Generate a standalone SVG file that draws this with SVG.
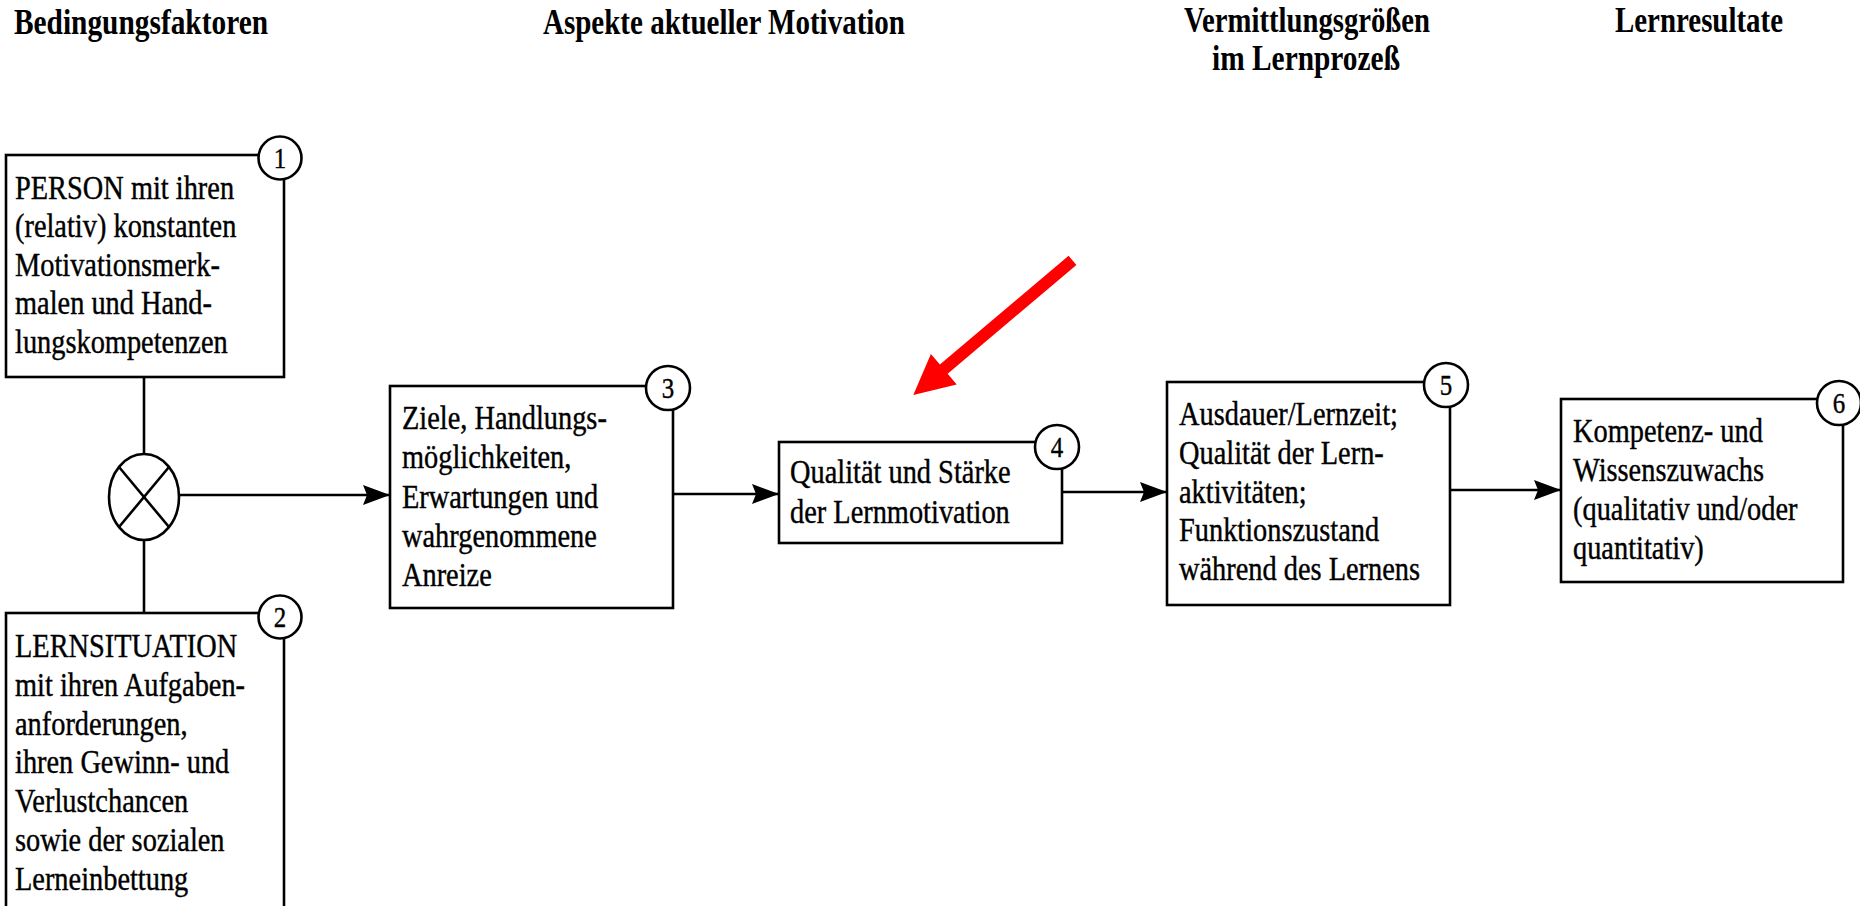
<svg xmlns="http://www.w3.org/2000/svg" width="1860" height="906" viewBox="0 0 1860 906">
<defs>
<style>
.hdr{font-family:"Liberation Serif","Times New Roman",serif;font-weight:bold;font-size:36px;fill:#000}
.txt{font-family:"Liberation Serif","Times New Roman",serif;font-size:33px;fill:#000;stroke:#000;stroke-width:0.4}
.num{font-family:"Liberation Serif","Times New Roman",serif;font-size:29px;fill:#000;stroke:#000;stroke-width:0.4;text-anchor:middle}
.box{fill:#fff;stroke:#000;stroke-width:2.6}
.circ{fill:#fff;stroke:#000;stroke-width:2.6}
.conn{fill:none;stroke:#000;stroke-width:2.6}
</style>
<marker id="ah" markerUnits="userSpaceOnUse" markerWidth="30" markerHeight="22" refX="27" refY="10" orient="auto">
<path d="M0,0 L27,10 L0,20 L4,10 Z" fill="#000"/>
</marker>
</defs>
<rect width="1860" height="906" fill="#fff"/>

<g id="headers">
<text class="hdr" x="14" y="34" textLength="254" lengthAdjust="spacingAndGlyphs">Bedingungsfaktoren</text>
<text class="hdr" x="543" y="34" textLength="362" lengthAdjust="spacingAndGlyphs">Aspekte aktueller Motivation</text>
<text class="hdr" x="1184" y="32" textLength="246" lengthAdjust="spacingAndGlyphs">Vermittlungsgrößen</text>
<text class="hdr" x="1212" y="70" textLength="188" lengthAdjust="spacingAndGlyphs">im Lernprozeß</text>
<text class="hdr" x="1615" y="32" textLength="168" lengthAdjust="spacingAndGlyphs">Lernresultate</text>
</g>

<g id="connectors">
<line class="conn" x1="144" y1="377" x2="144" y2="454"/>
<line class="conn" x1="144" y1="540" x2="144" y2="613"/>
<line class="conn" x1="179" y1="495" x2="390" y2="495" marker-end="url(#ah)"/>
<line class="conn" x1="673" y1="494" x2="779" y2="494" marker-end="url(#ah)"/>
<line class="conn" x1="1062" y1="492" x2="1167" y2="492" marker-end="url(#ah)"/>
<line class="conn" x1="1450" y1="490" x2="1561" y2="490" marker-end="url(#ah)"/>
</g>

<g id="combine">
<ellipse class="circ" cx="144" cy="497" rx="35" ry="43"/>
<line class="conn" x1="119" y1="467" x2="169" y2="527"/>
<line class="conn" x1="169" y1="467" x2="119" y2="527"/>
</g>

<g id="node1">
<rect class="box" x="6" y="155" width="278" height="222"/>
<circle class="circ" cx="280" cy="158" r="21.5"/>
<text class="num" transform="translate(280,168) scale(0.86,1)">1</text>
<text class="txt" transform="translate(15,199) scale(0.86,1)">PERSON mit ihren</text>
<text class="txt" transform="translate(15,237) scale(0.86,1)">(relativ) konstanten</text>
<text class="txt" transform="translate(15,276) scale(0.86,1)">Motivationsmerk-</text>
<text class="txt" transform="translate(15,314) scale(0.86,1)">malen und Hand-</text>
<text class="txt" transform="translate(15,353) scale(0.86,1)">lungskompetenzen</text>
</g>

<g id="node2">
<rect class="box" x="6" y="613" width="278" height="320"/>
<circle class="circ" cx="280" cy="617" r="21.5"/>
<text class="num" transform="translate(280,627) scale(0.86,1)">2</text>
<text class="txt" transform="translate(15,657) scale(0.86,1)">LERNSITUATION</text>
<text class="txt" transform="translate(15,696) scale(0.86,1)">mit ihren Aufgaben-</text>
<text class="txt" transform="translate(15,735) scale(0.86,1)">anforderungen,</text>
<text class="txt" transform="translate(15,773) scale(0.86,1)">ihren Gewinn- und</text>
<text class="txt" transform="translate(15,812) scale(0.86,1)">Verlustchancen</text>
<text class="txt" transform="translate(15,851) scale(0.86,1)">sowie der sozialen</text>
<text class="txt" transform="translate(15,890) scale(0.86,1)">Lerneinbettung</text>
</g>

<g id="node3">
<rect class="box" x="390" y="386" width="283" height="222"/>
<circle class="circ" cx="668" cy="388" r="22"/>
<text class="num" transform="translate(668,398) scale(0.86,1)">3</text>
<text class="txt" transform="translate(402,429) scale(0.86,1)">Ziele, Handlungs-</text>
<text class="txt" transform="translate(402,468) scale(0.86,1)">möglichkeiten,</text>
<text class="txt" transform="translate(402,508) scale(0.86,1)">Erwartungen und</text>
<text class="txt" transform="translate(402,547) scale(0.86,1)">wahrgenommene</text>
<text class="txt" transform="translate(402,586) scale(0.86,1)">Anreize</text>
</g>

<g id="node4">
<rect class="box" x="779" y="442" width="283" height="101"/>
<circle class="circ" cx="1057" cy="447" r="22"/>
<text class="num" transform="translate(1057,457) scale(0.86,1)">4</text>
<text class="txt" transform="translate(790,483) scale(0.86,1)">Qualität und Stärke</text>
<text class="txt" transform="translate(790,523) scale(0.86,1)">der Lernmotivation</text>
</g>

<g id="node5">
<rect class="box" x="1167" y="382" width="283" height="223"/>
<circle class="circ" cx="1446" cy="385" r="22"/>
<text class="num" transform="translate(1446,395) scale(0.86,1)">5</text>
<text class="txt" transform="translate(1179,425) scale(0.86,1)">Ausdauer/Lernzeit;</text>
<text class="txt" transform="translate(1179,464) scale(0.86,1)">Qualität der Lern-</text>
<text class="txt" transform="translate(1179,503) scale(0.86,1)">aktivitäten;</text>
<text class="txt" transform="translate(1179,541) scale(0.86,1)">Funktionszustand</text>
<text class="txt" transform="translate(1179,580) scale(0.86,1)">während des Lernens</text>
</g>

<g id="node6">
<rect class="box" x="1561" y="399" width="282" height="183"/>
<circle class="circ" cx="1839" cy="403" r="22"/>
<text class="num" transform="translate(1839,413) scale(0.86,1)">6</text>
<text class="txt" transform="translate(1573,442) scale(0.86,1)">Kompetenz- und</text>
<text class="txt" transform="translate(1573,481) scale(0.86,1)">Wissenszuwachs</text>
<text class="txt" transform="translate(1573,520) scale(0.86,1)">(qualitativ und/oder</text>
<text class="txt" transform="translate(1573,559) scale(0.86,1)">quantitativ)</text>
</g>

<g id="highlight">
<polygon fill="#ff0000" points="1068.6,255.7 939.9,364.6 930.9,353.9 913.3,395 956.7,384.5 947.7,373.8 1076.4,264.9"/>
</g>
</svg>
